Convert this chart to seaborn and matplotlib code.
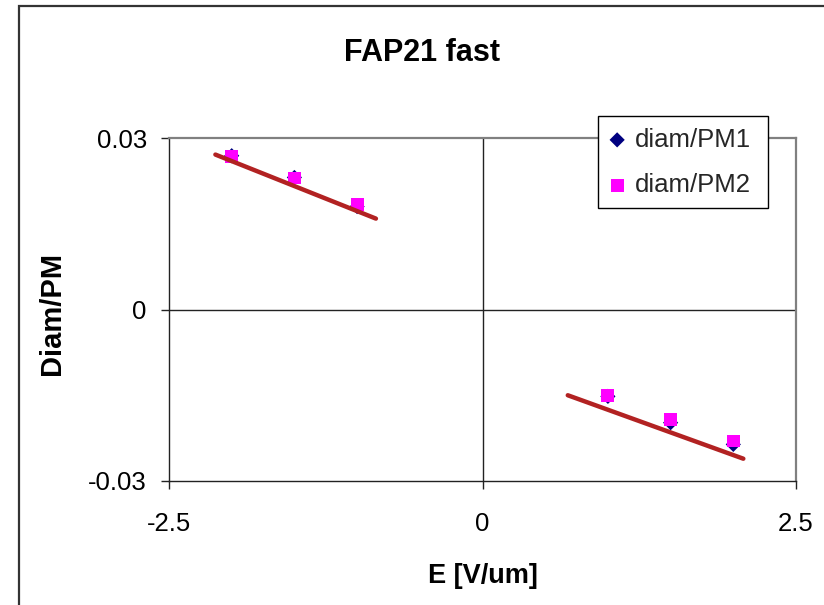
import numpy as np
import pandas as pd
import seaborn as sns
from matplotlib import pyplot as plt
from matplotlib.patches import Rectangle

# values
e_field = [-2.0, -1.5, -1.0, 1.0, 1.5, 2.0]
diam_pm1 = [0.0269, 0.0231, 0.0180, -0.0152, -0.0198, -0.0236]
diam_pm2 = [0.0267, 0.0230, 0.0184, -0.0150, -0.0192, -0.0230]

# the two trend line segments
fit_left_x = [-2.13, -0.85]
fit_left_y = [0.0271, 0.0159]
fit_right_x = [0.68, 2.08]
fit_right_y = [-0.0150, -0.0261]

x_ticks = [-2.5, 0, 2.5]
x_tick_labels = ['-2.5', '0', '2.5']
y_ticks = [-0.03, 0, 0.03]
y_tick_labels = ['-0.03', '0', '0.03']

sns.set_theme(style='white')
plt.rcParams['font.family'] = ['Liberation Sans', 'DejaVu Sans']

fig = plt.figure(figsize=(8.24, 6.05), dpi=100)
ax = fig.add_axes([169 / 824, 1 - 481 / 605, 627 / 824, 343 / 605])

df = pd.DataFrame({'E': e_field, 'pm1': diam_pm1, 'pm2': diam_pm2})

sns.scatterplot(data=df, x='E', y='pm1', marker='D', s=60, color='#000080',
                edgecolor='none', label='diam/PM1', ax=ax, zorder=3, clip_on=False)
sns.scatterplot(data=df, x='E', y='pm2', marker='s', s=85, color='#FF00FF',
                edgecolor='none', label='diam/PM2', ax=ax, zorder=4, clip_on=False)

sns.lineplot(x=fit_left_x, y=fit_left_y, color='#B22222', lw=3.2, ax=ax,
             legend=False, zorder=5)
sns.lineplot(x=fit_right_x, y=fit_right_y, color='#B22222', lw=3.2, ax=ax,
             legend=False, zorder=5)

ax.axhline(0, color='#222222', lw=1.0, zorder=1)
ax.axvline(0, color='#222222', lw=1.0, zorder=1)

ax.set_xlim(-2.5, 2.5)
ax.set_ylim(-0.03, 0.03)
ax.set_xticks(x_ticks)
ax.set_xticklabels(x_tick_labels)
ax.set_yticks(y_ticks)
ax.set_yticklabels(y_tick_labels)
ax.tick_params(axis='both', direction='out', length=6, width=1, color='#222222',
               labelsize=18.5, labelcolor='black')
ax.tick_params(axis='x', pad=16, bottom=True)
ax.tick_params(axis='y', pad=10, left=True)

for side in ['left', 'bottom']:
    ax.spines[side].set_color('#222222')
    ax.spines[side].set_linewidth(1.0)
for side in ['top', 'right']:
    ax.spines[side].set_color('#808080')
    ax.spines[side].set_linewidth(1.6)

ax.set_xlabel('E [V/um]', fontsize=19.5, fontweight='bold', color='black')
ax.xaxis.label.set_va('baseline')
ax.xaxis.set_label_coords(0.5, -(583 - 481) / 343)
ax.set_ylabel('Diam/PM', fontsize=21, fontweight='bold', color='black')
ax.yaxis.label.set_va('center')
ax.yaxis.set_label_coords((52 - 169) / 627, (481 - 313) / 343)

ax.set_title('FAP21 fast', fontsize=22, fontweight='bold', color='black',
             x=(422 - 169) / 627, y=1 + (138 - 61) / 343, va='baseline', pad=0)

leg = ax.legend(loc='upper left', bbox_to_anchor=(0.684, 0.80, 0.271, 0.264),
                mode='expand', fontsize=18.5,
                frameon=True, fancybox=False, framealpha=1, edgecolor='black',
                borderpad=0.45, handletextpad=0.4, handlelength=0.6,
                labelspacing=0.83, borderaxespad=0)
leg.get_frame().set_linewidth(1.0)

# outer chart area border
fig.add_artist(Rectangle((18.5 / 824, -0.5), 2, 0.5 + 1 - 6.5 / 605,
                         transform=fig.transFigure, fill=False,
                         edgecolor='#333333', lw=1.6))

fig.savefig('out.png', dpi=100)
